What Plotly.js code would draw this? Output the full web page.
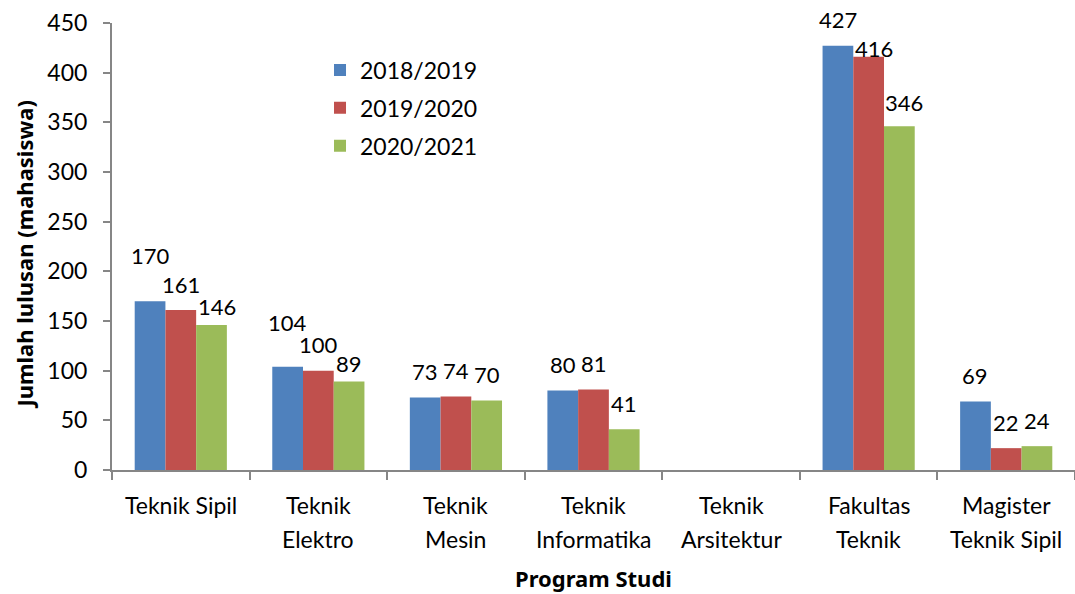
<!DOCTYPE html>
<html>
<head>
<meta charset="utf-8">
<script src="https://cdn.plot.ly/plotly-3.0.1.min.js"></script>
<style>html,body{margin:0;padding:0;background:#fff;}#chart{width:1075px;height:594px;}</style>
</head>
<body>
<div id="chart"></div>
<script>
const categories = ["Teknik Sipil", "Teknik<br>Elektro", "Teknik<br>Mesin", "Teknik<br>Informatika", "Teknik<br>Arsitektur", "Fakultas<br>Teknik", "Magister<br>Teknik Sipil"];
const seriesNames = ["2018/2019", "2019/2020", "2020/2021"];
const values2018 = [170, 104, 73, 80, null, 427, 69];
const values2019 = [161, 100, 74, 81, null, 416, 22];
const values2020 = [146, 89, 70, 41, null, 346, 24];
const yTicks = [0, 50, 100, 150, 200, 250, 300, 350, 400, 450];

const colors = ["#4F81BD", "#C0504D", "#9BBB59"];
const fontFam = "Lato, Noto Sans, sans-serif";
const titleFam = "Noto Sans, Open Sans, sans-serif";
const allValues = [values2018, values2019, values2020];

// label placement tweaks (pixels), as in the original chart: "series,category" -> [dx, dy]
const labelNudge = {"0,0": [0, 20], "2,0": [5, -8], "0,1": [0, 18], "2,1": [0, -8], "1,5": [5, -18], "2,5": [5, -2]};

const W = 1075, H = 594;
const margin = {l: 112, r: 0, t: 23, b: 124};
const bargap = 0.33;
const plotW = W - margin.l - margin.r;
const catW = plotW / categories.length;
const barW = catW * (1 - bargap) / allValues.length;

const traces = allValues.map((vals, i) => ({
  type: "bar",
  name: seriesNames[i],
  legendgroup: "g" + i,
  x: categories,
  y: vals,
  marker: {color: colors[i]},
  hoverinfo: "x+y+name"
}));

const annotations = [];
// data labels
allValues.forEach((vals, i) => {
  vals.forEach((v, j) => {
    if (v === null) return;
    const n = labelNudge[i + "," + j] || [0, 0];
    annotations.push({
      x: categories[j], y: v, xref: "x", yref: "y",
      text: String(v), showarrow: false,
      xshift: (i - (allValues.length - 1) / 2) * barW + n[0],
      yshift: 26 + n[1], yanchor: "middle", xanchor: "center",
      font: {family: fontFam, size: 22, color: "#000"}
    });
  });
});
// category labels (two lines with wide spacing)
categories.forEach((c, j) => {
  const lines = c.split("<br>");
  lines.forEach((ln, k) => {
    annotations.push({
      x: c, xref: "x", y: 0, yref: "paper",
      text: ln, showarrow: false, xanchor: "center", yanchor: "middle",
      yshift: -(505 - (H - margin.b)) - k * 34,
      font: {family: fontFam, size: 23, color: "#000"}
    });
  });
});
// axis titles
annotations.push({
  x: 0.5, xref: "paper", y: 0, yref: "paper", yshift: -(578 - (H - margin.b)),
  text: "<b>Program Studi</b>", showarrow: false, xanchor: "center", yanchor: "middle",
  font: {family: titleFam, size: 22, color: "#000"}
});
annotations.push({
  x: 0, xref: "paper", xshift: -(margin.l - 23), y: 0.5, yref: "paper", yshift: -8,
  text: "<b>Jumlah lulusan (mahasiswa)</b>", showarrow: false, textangle: -90,
  xanchor: "center", yanchor: "middle",
  font: {family: titleFam, size: 22, color: "#000"}
});

const layout = {
  width: W, height: H,
  margin: margin,
  paper_bgcolor: "#fff", plot_bgcolor: "#fff",
  barmode: "group",
  bargap: bargap,
  bargroupgap: 0,
  font: {family: fontFam, size: 22, color: "#000"},
  showlegend: true,
  legend: {x: 0.216, y: 0.943, xanchor: "left", yanchor: "top", bgcolor: "rgba(0,0,0,0)", tracegroupgap: 5,
    font: {family: fontFam, size: 23, color: "#000"}, traceorder: "grouped"},
  annotations: annotations,
  xaxis: {
    type: "category",
    showline: true, linecolor: "#868686", linewidth: 2,
    ticks: "outside", tickson: "boundaries", ticklen: 8, tickcolor: "#868686", tickwidth: 2,
    showgrid: false, zeroline: false, showticklabels: false
  },
  yaxis: {
    range: [0, 450],
    tickvals: yTicks,
    showline: true, linecolor: "#868686", linewidth: 2,
    ticks: "outside", ticklen: 7, tickcolor: "#868686", tickwidth: 2,
    ticklabelstandoff: 11,
    showgrid: false, zeroline: false,
    tickfont: {family: fontFam, size: 23, color: "#000"}
  }
};

Plotly.newPlot("chart", traces, layout, {displayModeBar: false, staticPlot: true});
</script>
</body>
</html>
